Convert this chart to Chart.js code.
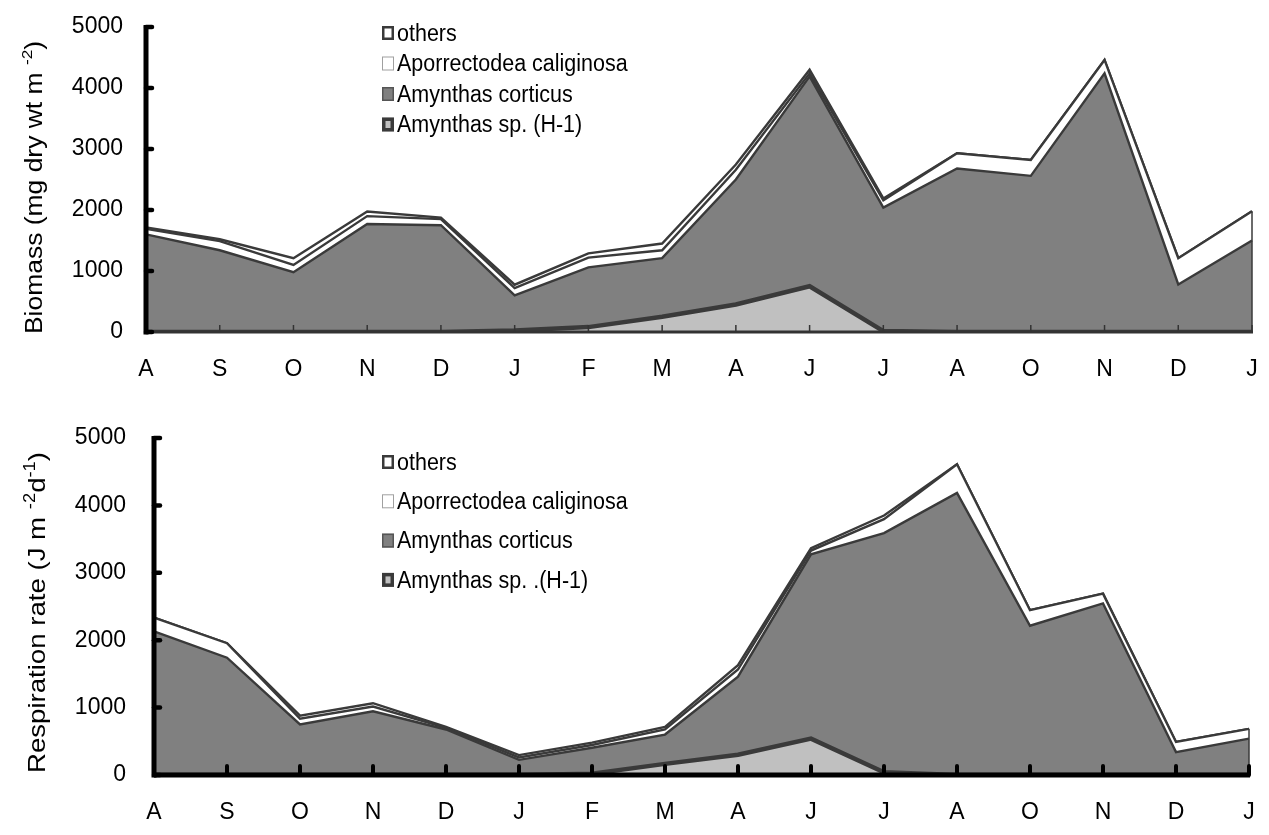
<!DOCTYPE html>
<html>
<head>
<meta charset="utf-8">
<script src="https://cdn.jsdelivr.net/npm/chart.js@4.4.1/dist/chart.umd.min.js"></script>
<style>
  html, body { margin: 0; padding: 0; background: #ffffff; }
  #wrap { position: relative; width: 1269px; height: 835px; overflow: hidden; }
  canvas { position: absolute; left: 0; }
  #c1 { top: 0; }
  #c2 { top: 418px; }
</style>
</head>
<body>
<div id="wrap">
  <canvas id="c1" width="1269" height="418"></canvas>
  <canvas id="c2" width="1269" height="417"></canvas>
</div>
<script>
// Sampling months, August through the following January
const months = ['A', 'S', 'O', 'N', 'D', 'J', 'F', 'M', 'A', 'J', 'J', 'A', 'O', 'N', 'D', 'J'];
const yTickValues = [0, 1000, 2000, 3000, 4000, 5000];

// Biomass (mg dry wt m-2), per species group, stacked from the bottom
const bioH1        = [0, 0, 0, 0, 0, 25, 80, 250, 450, 750, 15, 0, 0, 0, 0, 0];
const bioCorticus  = [1600, 1340, 980, 1770, 1750, 575, 980, 960, 2050, 3440, 2025, 2680, 2560, 4240, 780, 1500];
const bioCaliginosa = [90, 150, 120, 130, 100, 120, 160, 130, 160, 50, 120, 250, 260, 220, 430, 480];
const bioOthers    = [25, 30, 110, 75, 25, 55, 70, 110, 85, 60, 30, 0, 0, 0, 0, 0];

// Respiration rate (J m-2 d-1), per species group, stacked from the bottom
const respH1        = [0, 0, 0, 0, 0, 0, 20, 165, 300, 540, 40, 0, 0, 0, 0, 0];
const respCorticus  = [2130, 1740, 750, 945, 675, 225, 385, 435, 1160, 2735, 3550, 4185, 2215, 2545, 340, 540];
const respCaliginosa = [205, 215, 85, 70, 25, 35, 40, 75, 105, 55, 205, 425, 230, 145, 150, 145];
const respOthers    = [0, 0, 45, 50, 15, 35, 35, 40, 65, 35, 55, 0, 0, 0, 0, 0];

// Series names
const labelsBio  = ['Amynthas sp. (H-1)', 'Amynthas corticus', 'Aporrectodea caliginosa', 'others'];
const labelsResp = ['Amynthas sp. .(H-1)', 'Amynthas corticus', 'Aporrectodea caliginosa', 'others'];

const FONT = "'Liberation Sans', Arial, 'DejaVu Sans', sans-serif";
const EDGE = '#3a3a3a';
const TEXT_STRETCH = 1.15; // lettering is a little taller than it is wide

function buildDatasets(names, h1, cort, cal, oth) {
  return [
    { label: names[0], data: h1, fill: 'origin', backgroundColor: '#c0c0c0', borderColor: EDGE, borderWidth: 4.5,
      legendFill: '#c0c0c0', legendStroke: EDGE, legendWidth: 3.5 },
    { label: names[1], data: cort, fill: '-1', backgroundColor: '#808080', borderColor: EDGE, borderWidth: 2.4,
      legendFill: '#808080', legendStroke: '#555', legendWidth: 1.5 },
    { label: names[2], data: cal, fill: '-1', backgroundColor: '#ffffff', borderColor: EDGE, borderWidth: 2.4,
      legendFill: '#ffffff', legendStroke: '#a0a0a0', legendWidth: 1 },
    { label: names[3], data: oth, fill: '-1', backgroundColor: '#ffffff', borderColor: EDGE, borderWidth: 2.4,
      legendFill: '#ffffff', legendStroke: EDGE, legendWidth: 2.5 }
  ].map(d => Object.assign(d, { pointRadius: 0, pointHoverRadius: 0, tension: 0, borderJoinStyle: 'miter' }));
}

// Axis lines, inward tick marks and the closing edge at the last month
const axesPlugin = {
  id: 'axesInward',
  afterDatasetsDraw(chart, args, opts) {
    const { ctx, chartArea } = chart;
    const xs = chart.scales.x, ys = chart.scales.y;
    const y0 = ys.getPixelForValue(0);
    const yTop = ys.getPixelForValue(5000);
    const last = months.length - 1;
    const xLast = xs.getPixelForValue(last);
    ctx.save();
    // right-hand edge of the stacked areas
    const stackTop = chart.data.datasets.reduce((s, d) => s + d.data[last], 0);
    ctx.strokeStyle = EDGE;
    ctx.lineWidth = 1.5;
    ctx.beginPath();
    ctx.moveTo(xLast, ys.getPixelForValue(stackTop));
    ctx.lineTo(xLast, y0);
    ctx.stroke();
    // x axis
    ctx.strokeStyle = opts.xColor;
    ctx.lineWidth = opts.xWidth;
    ctx.lineCap = 'butt';
    ctx.beginPath();
    ctx.moveTo(chartArea.left, y0);
    ctx.lineTo(xLast + 1, y0);
    ctx.stroke();
    ctx.lineWidth = opts.xTickWidth;
    ctx.lineCap = opts.xTickCap;
    for (let i = 1; i < months.length; i++) {
      const px = xs.getPixelForValue(i);
      ctx.beginPath();
      ctx.moveTo(px, y0);
      ctx.lineTo(px, y0 - opts.xTickLen);
      ctx.stroke();
    }
    // y axis
    ctx.strokeStyle = '#000';
    ctx.lineCap = 'butt';
    ctx.lineWidth = 5;
    ctx.beginPath();
    ctx.moveTo(chartArea.left, yTop - 2);
    ctx.lineTo(chartArea.left, y0 + 2.5);
    ctx.stroke();
    ctx.lineWidth = 4.5;
    ctx.lineCap = 'round';
    yTickValues.forEach(v => {
      const py = ys.getPixelForValue(v);
      ctx.beginPath();
      ctx.moveTo(chartArea.left, py);
      ctx.lineTo(chartArea.left + 6, py);
      ctx.stroke();
    });
    ctx.restore();
  }
};

// Legend boxes inside the plot, listed from the top series down
const boxLegendPlugin = {
  id: 'boxLegend',
  afterDraw(chart, args, opts) {
    const { ctx } = chart;
    const ds = chart.data.datasets.slice().reverse();
    ctx.save();
    ds.forEach((d, i) => {
      const cy = opts.y + i * opts.dy;
      const w = opts.w, h = opts.h;
      const bx = opts.x, by = cy - h / 2;
      ctx.fillStyle = d.legendFill;
      ctx.fillRect(bx, by, w, h);
      ctx.strokeStyle = d.legendStroke;
      ctx.lineWidth = d.legendWidth;
      const lw = d.legendWidth;
      ctx.strokeRect(bx + lw / 2, by + lw / 2, w - lw, h - lw);
      ctx.save();
      ctx.translate(bx + w + 3, cy + 1);
      ctx.scale(1, TEXT_STRETCH);
      ctx.font = opts.size + 'px ' + FONT;
      ctx.textBaseline = 'middle';
      ctx.fillStyle = '#000';
      ctx.fillText(d.label, 0, 0);
      ctx.restore();
    });
    ctx.restore();
  }
};

// Rotated axis title with superscript parts
const axisTitlePlugin = {
  id: 'axisTitleSup',
  afterDraw(chart, args, opts) {
    const { ctx, chartArea } = chart;
    const main = opts.size + 'px ' + FONT, sup = Math.round(opts.size * 0.65) + 'px ' + FONT;
    ctx.save();
    let total = 0;
    opts.parts.forEach(p => { ctx.font = p.sup ? sup : main; total += ctx.measureText(p.t).width; });
    const cy = (chartArea.top + chartArea.bottom) / 2 + opts.dy;
    ctx.translate(opts.x, cy);
    ctx.rotate(-Math.PI / 2);
    ctx.scale(TEXT_STRETCH, 1);
    ctx.fillStyle = '#000';
    ctx.textBaseline = 'alphabetic';
    let x = -total / 2;
    opts.parts.forEach(p => {
      ctx.font = p.sup ? sup : main;
      ctx.fillText(p.t, x, p.sup ? -2 : 8);
      x += ctx.measureText(p.t).width;
    });
    ctx.restore();
  }
};

function makeChart(id, datasets, cfg) {
  return new Chart(document.getElementById(id), {
    type: 'line',
    data: { labels: months, datasets },
    plugins: [axesPlugin, boxLegendPlugin, axisTitlePlugin],
    options: {
      responsive: false,
      animation: false,
      devicePixelRatio: 1,
      layout: { padding: { top: cfg.top, right: cfg.right, left: 0, bottom: 0 } },
      plugins: {
        legend: { display: false },
        tooltip: { enabled: false },
        filler: { propagate: false },
        axesInward: cfg.axes,
        boxLegend: cfg.legend,
        axisTitleSup: cfg.title
      },
      scales: {
        x: {
          type: 'category',
          offset: false,
          grid: { display: false, drawTicks: false },
          border: { display: false },
          ticks: { color: '#000', font: { family: FONT, size: 23 }, padding: cfg.xPad, maxRotation: 0, autoSkip: false },
          afterFit: s => { s.height = cfg.xHeight; s.paddingLeft = 0; s.paddingRight = 0; }
        },
        y: {
          stacked: true,
          min: 0, max: 5000,
          grid: { display: false, drawTicks: false },
          border: { display: false },
          afterBuildTicks: s => { s.ticks = yTickValues.map(v => ({ value: v })); },
          ticks: { color: '#000', font: { family: FONT, size: 23 }, padding: cfg.yPad, callback: v => String(v) },
          afterFit: s => { s.width = cfg.left; s.paddingTop = 0; s.paddingBottom = 0; }
        }
      }
    }
  });
}

makeChart('c1', buildDatasets(labelsBio, bioH1, bioCorticus, bioCaliginosa, bioOthers), {
  top: 27, right: 17, left: 146, xHeight: 418 - 332, xPad: 24, yPad: 23,
  axes: { xColor: '#333', xWidth: 3, xTickWidth: 1.5, xTickLen: 7, xTickCap: 'butt' },
  legend: { x: 382, y: 33, dy: 30.5, w: 12, h: 14, size: 21.5 },
  title: { x: 34, dy: 8, size: 23, parts: [{ t: 'Biomass (mg dry wt m ' }, { t: '-2', sup: true }, { t: ')' }] }
});

makeChart('c2', buildDatasets(labelsResp, respH1, respCorticus, respCaliginosa, respOthers), {
  top: 20, right: 20, left: 154, xHeight: 417 - 357, xPad: 24, yPad: 28,
  axes: { xColor: '#000', xWidth: 5, xTickWidth: 4, xTickLen: 9, xTickCap: 'round' },
  legend: { x: 382, y: 44, dy: 39.3, w: 12, h: 14, size: 21.5 },
  title: { x: 37, dy: 6, size: 24, parts: [{ t: 'Respiration rate (J m ' }, { t: '-2', sup: true }, { t: 'd' }, { t: '-1', sup: true }, { t: ')' }] }
});
</script>
</body>
</html>
